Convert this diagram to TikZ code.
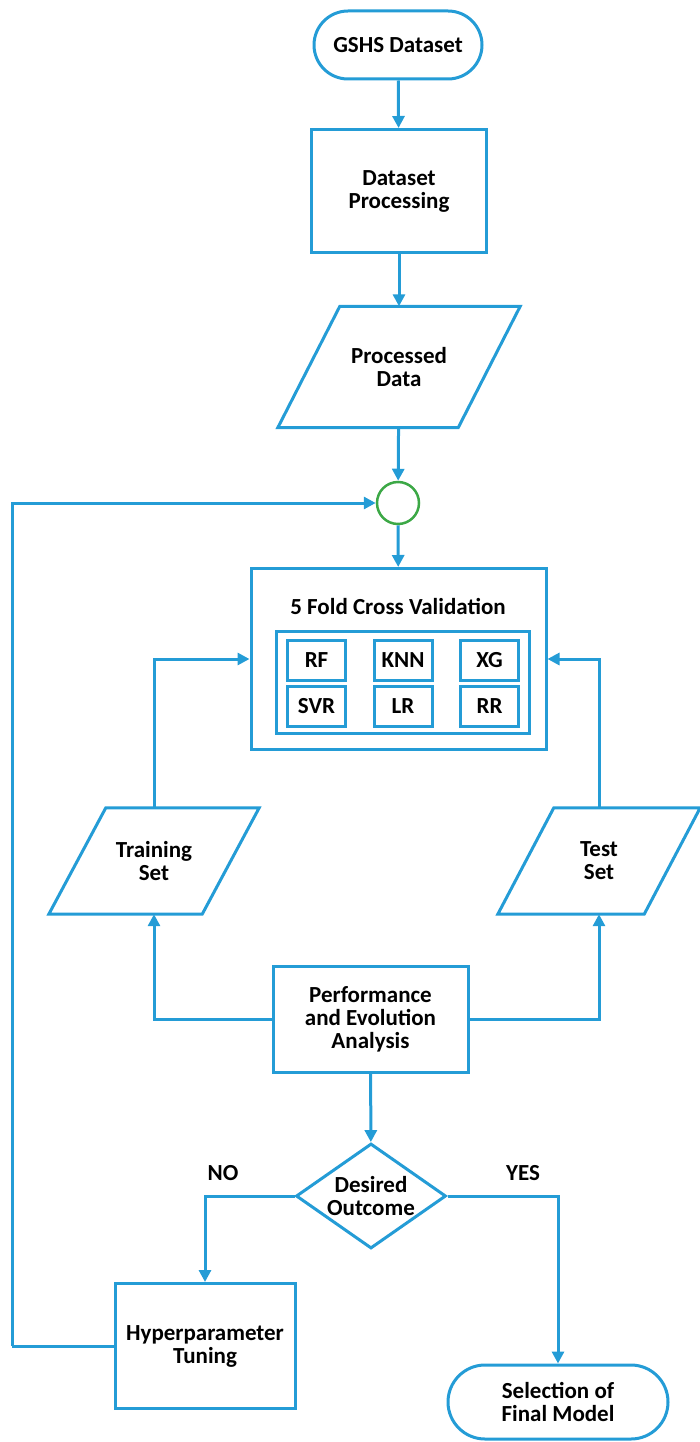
\documentclass[tikz,border=0pt]{standalone}
\usepackage{fontspec}
\setmainfont{Carlito}
\usetikzlibrary{shapes.geometric,arrows.meta}
\definecolor{fblue}{RGB}{36,156,214}
\definecolor{fgreen}{RGB}{60,168,70}
\newcommand{\paraoutline}[2]{%
  \draw[base] ([xshift=#2/2]#1.north west) -- ([xshift=#2/2]#1.north east)
    -- ([xshift=-#2/2]#1.south east) -- ([xshift=-#2/2]#1.south west) -- cycle;}
\begin{document}
\begin{tikzpicture}[x=1pt,y=-1pt,
  every node/.style={font=\fontsize{23}{23}\selectfont\bfseries, align=center, text=black},
  base/.style={draw=fblue, line width=3pt},
  stadium/.style={base, fill=white, rectangle, rounded corners=34pt},
  procbox/.style={base, fill=white, rectangle},
  iobox/.style={rectangle, inner sep=0pt},
  decbox/.style={base, fill=white, diamond, inner sep=-7pt},
  smallbox/.style={base, fill=white, rectangle, minimum width=58pt, minimum height=40pt, inner sep=0pt},
  arr/.style={draw=fblue, line width=3pt, -{Triangle[length=12pt,width=12pt]}},
  ln/.style={draw=fblue, line width=3pt},
  lbl/.style={font=\fontsize{23}{23}\selectfont\bfseries}
]
\useasboundingbox (0,0) rectangle (699,1442);

\node[stadium, minimum width=168pt, minimum height=68pt] (gshs) at (398,45) {GSHS Dataset};
\node[procbox, minimum width=175pt, minimum height=123pt] (proc) at (399,191) {Dataset\\Processing};
\node[iobox, minimum width=180pt, minimum height=121pt] (pdata) at (399,367) {Processed\\Data};
\paraoutline{pdata}{62}
\node[circle, draw=fgreen, line width=2.5pt, minimum size=42pt, inner sep=0pt] (circ) at (398,503) {};

\node[procbox, minimum width=295pt, minimum height=181pt] (cv) at (398.5,659) {};
\node at (398,606) (cvtitle) {5 Fold Cross Validation};
\node[procbox, minimum width=253pt, minimum height=102pt] (inner) at (402.5,682) {};
\node[smallbox] (rf) at (316.5,660) {RF};
\node[smallbox] (knn) at (403,660) {KNN};
\node[smallbox] (xg) at (489.5,660) {XG};
\node[smallbox] (svr) at (316.5,706) {SVR};
\node[smallbox] (lr) at (403,706) {LR};
\node[smallbox] (rr) at (489.5,706) {RR};

\node[iobox, minimum width=153pt, minimum height=106pt] (train) at (154,861) {Training\\Set};
\paraoutline{train}{57}
\node[iobox, minimum width=146pt, minimum height=106pt] (test) at (599,861) {Test\\Set};
\paraoutline{test}{56}

\node[procbox, minimum width=195pt, minimum height=106pt] (perf) at (370.5,1019) {Performance\\and Evolution\\Analysis};
\node[decbox, minimum width=150pt, minimum height=105pt, aspect=1.43] (dec) at (371,1196) {Desired\\Outcome};

\node[procbox, minimum width=180pt, minimum height=125pt] (hyper) at (205,1346) {Hyperparameter\\Tuning};
\node[stadium, minimum width=220pt, minimum height=74pt, rounded corners=37pt] (final) at (558,1402) {Selection of\\Final Model};

\node[lbl] (no) at (223,1173) {NO};
\node[lbl] (yes) at (523,1173) {YES};

\coordinate (loopc) at (12,1346);

\draw[arr] (gshs) -- (proc);
\draw[arr] (proc) -- (pdata);
\draw[arr] (pdata) -- (circ);
\draw[arr] (circ) -- (cv);
\draw[arr] (loopc) |- (circ.west);
\draw[ln] (hyper.west) -- (loopc);
\draw[arr] (perf.west) -| (train.south);
\draw[arr] (perf.east) -| (test.south);
\draw[arr] (train.north) |- (cv.west);
\draw[arr] (test.north) |- (cv.east);
\draw[arr] (perf) -- (dec);
\draw[arr] (dec.west) -| (hyper.north);
\draw[arr] (dec.east) -| (final.north);
\end{tikzpicture}
\end{document}
